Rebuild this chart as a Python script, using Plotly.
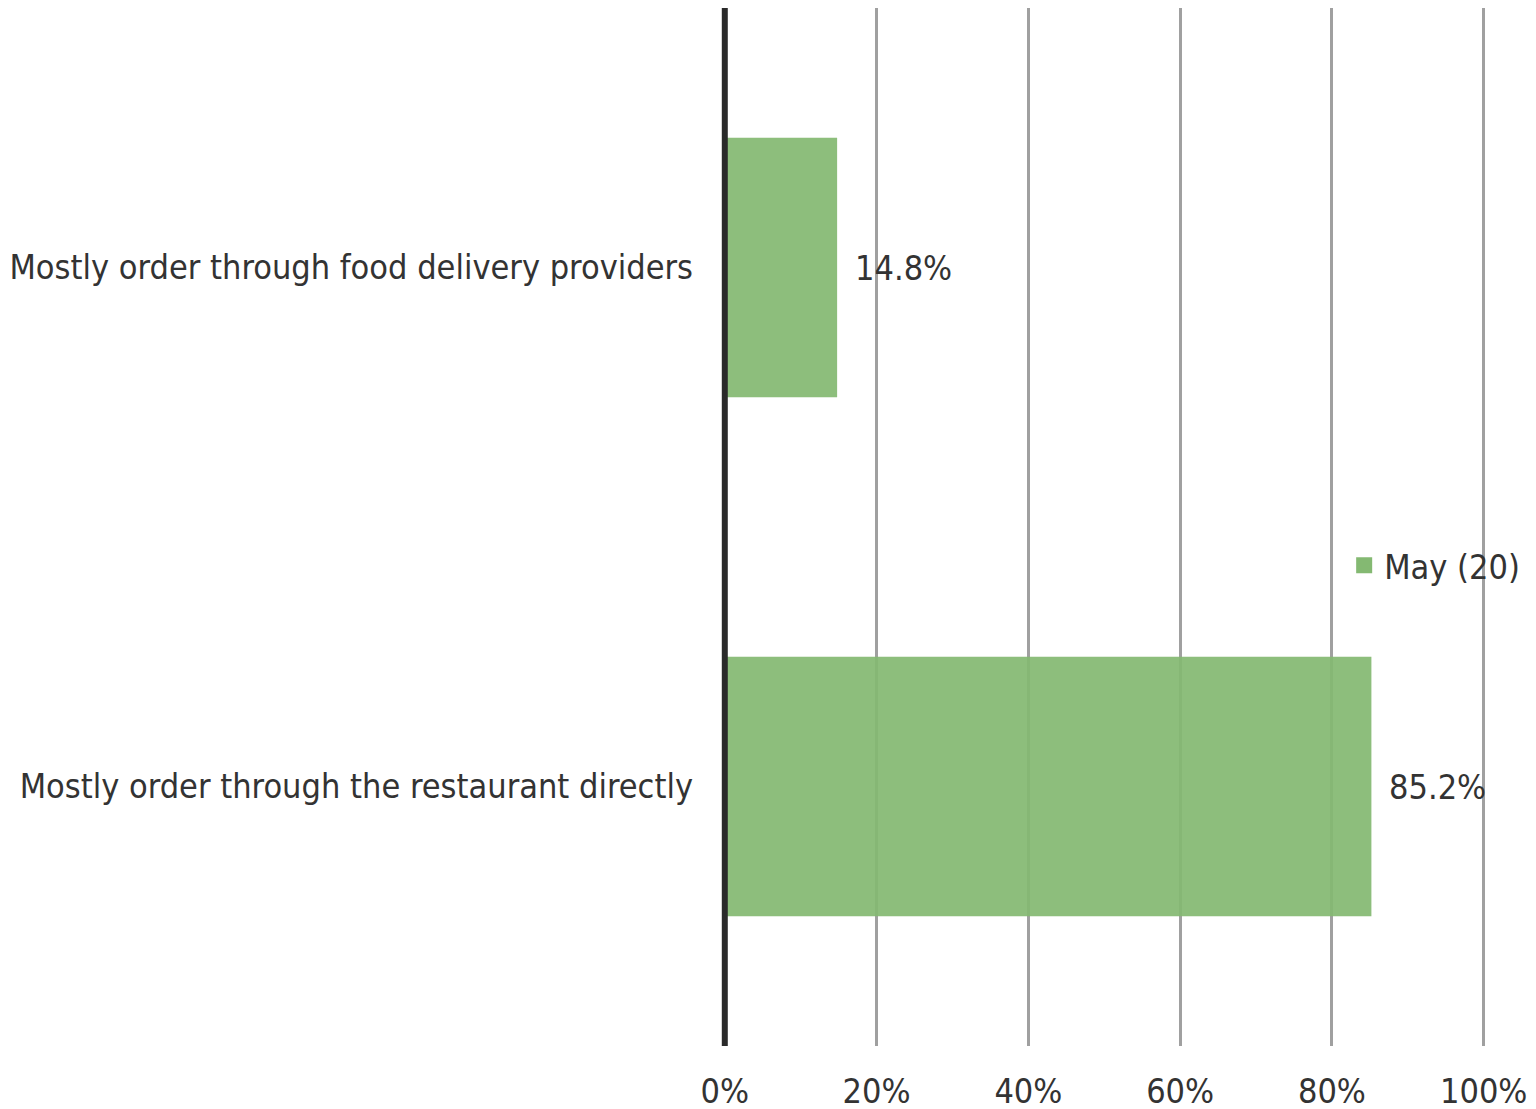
import plotly.graph_objects as go

categories = ["Mostly order through food delivery providers",
              "Mostly order through the restaurant directly"]
values = [14.8, 85.2]
series_name = "May (20)"
tick_vals = [0, 20, 40, 60, 80, 100]
tick_text = ["0%", "20%", "40%", "60%", "80%", "100%"]

FONT = "DejaVu Sans Condensed, Tahoma, DejaVu Sans, sans-serif"
TXT = "#333333"
BAR = "#84b972"
FS = 34

fig = go.Figure()
fig.add_trace(go.Bar(
    y=categories, x=values, orientation="h", name=series_name,
    marker=dict(color=BAR, line=dict(width=0)), opacity=0.93,
    width=0.5, showlegend=False,
))
# legend entry with a larger square swatch
fig.add_trace(go.Scatter(
    x=[None], y=[None], mode="markers", name=series_name,
    marker=dict(symbol="square", size=20, color=BAR), showlegend=True,
))
for c, v in zip(categories, values):
    fig.add_annotation(x=v, y=c, text=f"{v:.1f}%", showarrow=False,
                       xanchor="left", xshift=16, font=dict(size=FS, color=TXT, family=FONT))

# vertical category-axis line at 0
fig.add_shape(type="line", xref="x", yref="paper", x0=0, x1=0, y0=0, y1=1,
              line=dict(color="#2a2a2a", width=6), layer="above")

fig.update_layout(
    width=1536, height=1109,
    margin=dict(l=713, r=58, t=0, b=71),
    paper_bgcolor="white", plot_bgcolor="white",
    font=dict(family=FONT, size=FS, color=TXT),
    showlegend=True,
    legend=dict(x=0.8146, y=0.4627, xanchor="left", yanchor="middle",
                bgcolor="rgba(0,0,0,0)", font=dict(size=FS, color=TXT),
                itemwidth=30, tracegroupgap=0),
    bargap=0.5,
)
fig.update_xaxes(range=[-0.5, 100.3], tickvals=tick_vals, ticktext=tick_text,
                 showgrid=True, gridcolor="#a0a0a0", gridwidth=2.5,
                 zeroline=False, showline=False, ticks="",
                 ticklabelstandoff=22, tickfont=dict(size=FS, color=TXT))
fig.update_yaxes(categoryorder="array", categoryarray=categories[::-1],
                 showgrid=False, zeroline=False, showline=False,
                 ticks="", ticklabelstandoff=27, tickfont=dict(size=FS, color=TXT))

fig.write_html("out.html")
